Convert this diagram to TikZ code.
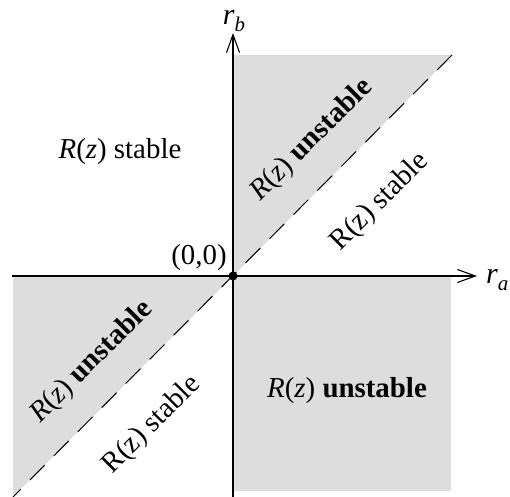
\documentclass[tikz,border=0pt]{standalone}
\usepackage{fontspec}
\setmainfont{Liberation Serif}
\usetikzlibrary{arrows.meta}
\definecolor{regiongray}{RGB}{221,221,221}
\begin{document}
\begin{tikzpicture}[x=1bp,y=-1bp,
  region/.style={fill=regiongray,draw=none},
  axis/.style={line width=1.1bp,-{Straight Barb[length=18bp,width=13bp,line width=1.1bp]}},
  diag/.style={line width=1bp,dash pattern=on 21bp off 13bp},
  lbl/.style={font=\fontsize{29}{33}\selectfont,inner sep=0pt},
  axlbl/.style={font=\fontsize{30}{34}\selectfont,inner sep=0pt}]
\useasboundingbox (0,0) rectangle (510,497);
% named points
\coordinate (O) at (233,276);
\coordinate (xl) at (12,276);
\coordinate (xr) at (477,276);
\coordinate (yb) at (233,497);
\coordinate (yt) at (233,33);
\coordinate (dtr) at (452,55);
\coordinate (dbl) at (13,497);
% regions
\fill[region] (O) -- (233,55) -- (dtr) -- cycle;
\fill[region] (O) rectangle (451,491);
\fill[region] (O) -- (13,276) -- (dbl) -- cycle;
% diagonal
\draw[diag] (dtr) -- (dbl);
% axes
\draw[axis] (xl) -- (xr);
\draw[axis] (yb) -- (yt);
\fill (O) circle (4.5bp);
% axis labels
\node[axlbl,anchor=west] (ra) at (486,280) {\textit{r}{\fontsize{21}{24}\selectfont\raisebox{-7bp}{\textit{a}}}};
\node[axlbl] (rb) at (234,21) {\textit{r}{\fontsize{21}{24}\selectfont\raisebox{-7bp}{\textit{b}}}};
\node[lbl] (orig) at (199,258) {(0,0)};
% region labels
\node[lbl,anchor=base] (s1) at (120,159) {\textit{R}(\textit{z}) stable};
\node[lbl,anchor=base] (u1) at (347,397) {\textit{R}(\textit{z}) \textbf{unstable}};
\node[lbl,rotate=45] (u2) at (312,140) {\textit{R}(\textit{z}) \textbf{unstable}};
\node[lbl,rotate=45] (s2) at (380,202) {R(z) stable};
\node[lbl,rotate=45] (u3) at (92,362) {\textit{R}(\textit{z}) \textbf{unstable}};
\node[lbl,rotate=45] (s3) at (152,425) {R(z) stable};
\end{tikzpicture}
\end{document}
